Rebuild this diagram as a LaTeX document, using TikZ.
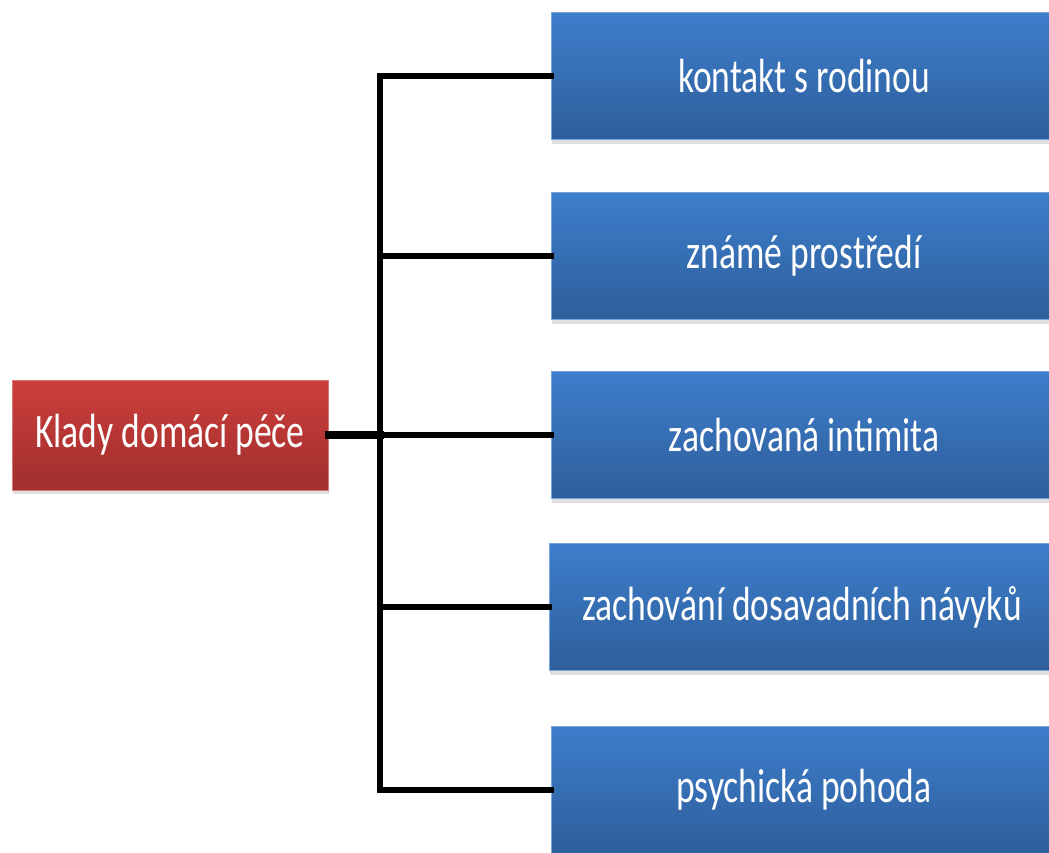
\documentclass[tikz,border=0pt]{standalone}
\usepackage{fontspec}
\setmainfont{Carlito}[FakeStretch=0.74]
\usetikzlibrary{shadows}

\definecolor{boxbluetop}{HTML}{3D7ECB}
\definecolor{boxbluebot}{HTML}{2E5E9B}
\definecolor{boxredtop}{HTML}{CC3E3B}
\definecolor{boxredbot}{HTML}{A02F2D}

\begin{document}
\begin{tikzpicture}[
    x=1pt, y=-1pt,
    font=\fontsize{48}{56}\selectfont,
    box/.style={rectangle, inner sep=0pt, text=white,
      draw=boxbluetop!70!white, line width=0.8pt,
      drop shadow={shadow xshift=1pt, shadow yshift=-4pt, opacity=.25},
      minimum height=127pt},
    item/.style={box, minimum width=506pt,
      top color=boxbluetop, bottom color=boxbluebot},
    root/.style={box, minimum width=316pt, minimum height=110pt,
      draw=boxredtop!70!white,
      top color=boxredtop, bottom color=boxredbot},
    conn/.style={line width=6pt, line cap=rect, line join=miter},
  ]
  \useasboundingbox (0,0) rectangle (1049,852);

  %% ---- root --------------------------------------------------------
  \node[root] (klady) at (170,435) {Klady domácí péče};

  %% ---- items -------------------------------------------------------
  \node[item] (kontakt)  at (804,76)  {kontakt s rodinou};
  \node[item] (prostredi) at (804,256) {známé prostředí};
  \node[item] (intimita) at (804,435) {zachovaná intimita};
  \node[item] (navyky)   at (802,607) {zachování dosavadních návyků};
  \node[item] (pohoda)   at (804,790) {psychická pohoda};

  %% ---- connectors --------------------------------------------------
  \coordinate (spine) at (380,435);
  \draw[conn] (kontakt.west) -- (kontakt.west -| spine)
    -- (pohoda.west -| spine) -- (pohoda.west);
  \draw[conn] (prostredi.west) -- (prostredi.west -| spine);
  \draw[conn] (intimita.west) -- (intimita.west -| spine);
  \draw[conn] (navyky.west) -- (navyky.west -| spine);
  \draw[conn, line width=7.5pt] (klady.east) -- (klady.east -| spine);
\end{tikzpicture}
\end{document}
